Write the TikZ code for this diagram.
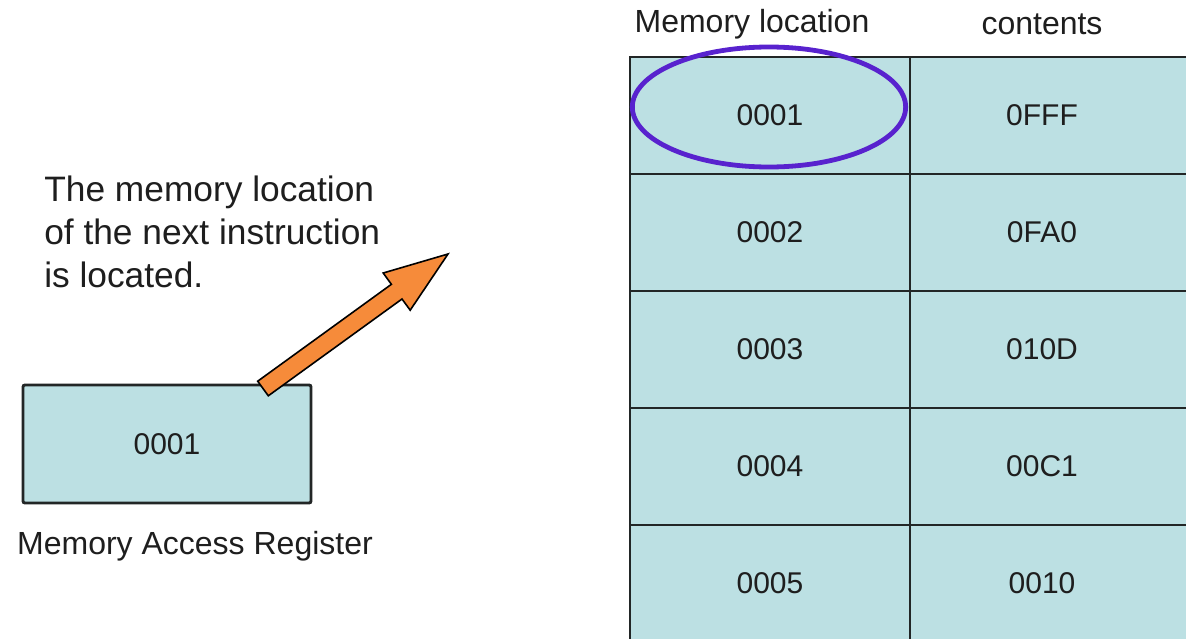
\documentclass[tikz,border=0pt]{standalone}
\usepackage{fontspec}
\setmainfont{Liberation Sans}
\usetikzlibrary{shapes.geometric}
\definecolor{cellfill}{RGB}{188,224,227}
\definecolor{gridline}{RGB}{34,38,38}
\definecolor{ringcol}{RGB}{88,34,206}
\definecolor{arrowfill}{RGB}{246,139,58}
\definecolor{txt}{RGB}{30,30,30}
\tikzset{
  x=0.75pt, y=-0.75pt,
  cellbox/.style={draw=gridline, line width=2.2pt, fill=cellfill, inner sep=0pt,
    minimum width=210pt, minimum height=87.75pt, anchor=center,
    font=\fontsize{22.5}{26}\selectfont, text=txt},
  marbox/.style={draw=gridline, line width=2.2pt, fill=cellfill, inner sep=0pt, rounded corners=1.5pt,
    minimum width=216pt, minimum height=88.5pt, font=\fontsize{22.5}{26}\selectfont, text=txt},
  lbl/.style={inner sep=0pt, font=\fontsize{24}{28}\selectfont, text=txt},
  note/.style={inner sep=0pt, align=left, font=\fontsize{26.5}{32}\selectfont, text=txt},
  ring/.style={ellipse, draw=ringcol, line width=3.6pt, minimum width=205pt, minimum height=90pt, inner sep=0pt},
  bigarrow/.style={draw=black, line width=1.2pt, fill=arrowfill, line join=miter}
}
\begin{document}
\begin{tikzpicture}
\clip (0,0) rectangle (1186,639);
\fill[white] (0,0) rectangle (1186,639);

% table
\foreach \r/\a/\c [count=\i from 0] in {1/0001/0FFF,2/0002/0FA0,3/0003/010D,4/0004/00C1,5/0005/0010}{
  \node[cellbox] (loc\r) at (770,{115.5+117*\i}) {\a};
  \node[cellbox, minimum width=217.5pt] (con\r) at (1055,{115.5+117*\i}) {\phantom{\c}};
  \node[inner sep=0pt, font=\fontsize{22.5}{26}\selectfont, text=txt] (cont\r) at (1042,{115.5+117*\i}) {\c};
}

% headers
\node[lbl] (hloc) at (752,24) {Memory location};
\node[lbl] (hcon) at (1042,24) {contents};

% highlight ring
\node[ring] (sel) at (769,107) {};

% memory access register
\node[marbox] (mar) at (167,444) {0001};
\node[lbl] (marlbl) at (195,546) {Memory Access Register};

% note
\node[note, anchor=north west] (note) at (44,176) {The memory location\\of the next instruction\\is located.};

% orange arrow
\draw[bigarrow] (257.7,381.2) -- (391.4,284.3) -- (383.2,273) -- (448,254)
  -- (410.2,310.2) -- (402,299) -- (268.3,395.8) -- cycle;
\end{tikzpicture}
\end{document}
